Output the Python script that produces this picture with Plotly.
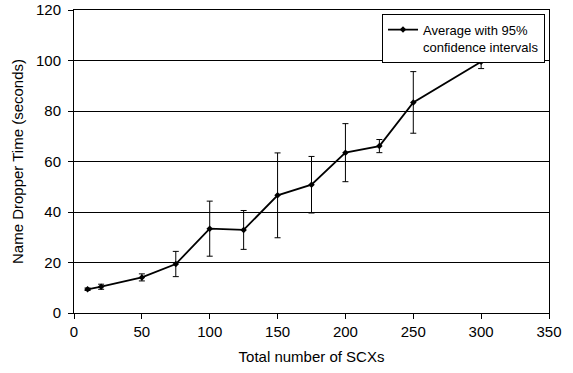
import plotly.graph_objects as go

scx = [10, 20, 50, 75, 100, 125, 150, 175, 200, 225, 250, 300]
avg_time = [9.4, 10.4, 14.1, 19.4, 33.4, 32.9, 46.6, 50.8, 63.5, 66.1, 83.4, 99.5]
ci_95 = [0.5, 1.0, 1.4, 5.0, 10.9, 7.7, 16.8, 11.2, 11.5, 2.6, 12.2, 2.7]

x_ticks = [0, 50, 100, 150, 200, 250, 300, 350]
y_ticks = [0, 20, 40, 60, 80, 100, 120]

FAM = "Liberation Sans, Arial, sans-serif"

fig = go.Figure()
fig.add_trace(go.Scatter(
    x=scx, y=avg_time,
    mode="lines+markers",
    name="Average with 95%<br>confidence intervals",
    line=dict(color="black", width=1.8),
    marker=dict(color="black", size=5, symbol="diamond"),
    error_y=dict(type="data", array=ci_95, visible=True, color="black", thickness=1, width=3),
))

fig.update_layout(
    width=573, height=373,
    margin=dict(l=74, r=24, t=10, b=60),
    paper_bgcolor="white", plot_bgcolor="white",
    font=dict(family=FAM, size=15, color="black"),
    showlegend=True,
    legend=dict(
        x=0.9916, y=0.988, xanchor="right", yanchor="top",
        bordercolor="black", borderwidth=1, bgcolor="white",
        font=dict(family=FAM, size=13, color="black"),
        valign="top", itemwidth=30, tracegroupgap=0,
    ),
    xaxis=dict(
        range=[0, 350], tickvals=x_ticks, ticktext=[str(v) for v in x_ticks],
        showgrid=False, zeroline=False, automargin=False,
        showline=True, linecolor="black", linewidth=1, mirror=True,
        ticks="outside", ticklen=5, tickcolor="black",
        tickfont=dict(family=FAM, size=15, color="black"),
        title=dict(text="Total number of SCXs", font=dict(family=FAM, size=15, color="black"), standoff=12),
    ),
    yaxis=dict(
        range=[0, 120], tickvals=y_ticks, ticktext=[str(v) for v in y_ticks],
        showgrid=True, gridcolor="black", gridwidth=1, zeroline=False, automargin=False,
        showline=True, linecolor="black", linewidth=1, mirror=True,
        ticks="outside", ticklen=5, tickcolor="black", ticklabelstandoff=4,
        tickfont=dict(family=FAM, size=15, color="black"),
        title=dict(text="Name Dropper Time (seconds)", font=dict(family=FAM, size=15, color="black"), standoff=8),
    ),
)

fig.write_html("out.html", config={"displayModeBar": False},
               post_script="document.body.style.margin='0px';")
